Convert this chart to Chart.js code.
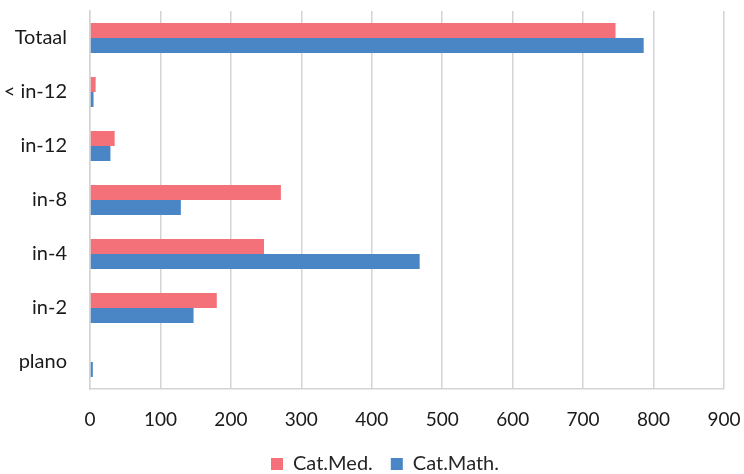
<!DOCTYPE html>
<html>
<head>
<meta charset="utf-8">
<script src="https://cdn.jsdelivr.net/npm/chart.js@4"></script>
<style>
  html, body { margin: 0; padding: 0; background: #fff; }
  #wrap { width: 744px; height: 474px; }
</style>
</head>
<body>
<div id="wrap"><canvas id="chart"></canvas></div>
<script>
const categories = ['Totaal', '< in-12', 'in-12', 'in-8', 'in-4', 'in-2', 'plano'];
const catMed = [746, 8, 35, 271, 247, 180, 0];
const catMath = [786, 5, 29, 129, 468, 147, 4];
const xTicks = [0, 100, 200, 300, 400, 500, 600, 700, 800, 900];

const gridColor = '#d4d4d4';
const font = 'Lato';

// keep the plot area where the reference has it, no label overflow padding
function noPad(scale) {
  scale.paddingTop = 0;
  scale.paddingBottom = 0;
  scale.paddingLeft = 0;
  scale.paddingRight = 0;
}

// the reference legend sits a bit right of the canvas centre
const legendShift = {
  id: 'legendShift',
  afterLayout(chart) {
    chart.legend.left += 23;
    chart.legend.right += 23;
  }
};

const ctx = document.getElementById('chart').getContext('2d');
const chart = new Chart(ctx, {
  type: 'bar',
  data: {
    labels: categories,
    datasets: [
      {
        label: 'Cat.Med.',
        data: catMed,
        backgroundColor: '#f4717a',
        barPercentage: 1,
        categoryPercentage: 0.555
      },
      {
        label: 'Cat.Math.',
        data: catMath,
        backgroundColor: '#4a86c6',
        barPercentage: 1,
        categoryPercentage: 0.555
      }
    ]
  },
  plugins: [legendShift],
  options: {
    indexAxis: 'y',
    responsive: true,
    maintainAspectRatio: false,
    animation: false,
    layout: { padding: { left: 0, right: 20, top: 11, bottom: -10 } },
    scales: {
      x: {
        min: 0,
        max: 900,
        afterBuildTicks: axis => { axis.ticks = xTicks.map(v => ({ value: v })); },
        grid: { color: gridColor, lineWidth: 1.5, drawTicks: false },
        border: { display: true, color: gridColor, width: 1.5 },
        ticks: { padding: 19, color: '#1a1a1a', font: { family: font, size: 19 } },
        afterFit: scale => { noPad(scale); scale.height = 47; }
      },
      y: {
        grid: { display: false },
        border: { display: true, color: gridColor, width: 1.5 },
        ticks: { padding: 15, color: '#1a1a1a', font: { family: font, size: 20 } },
        afterFit: scale => { noPad(scale); scale.width = 90; }
      }
    },
    plugins: {
      legend: {
        position: 'bottom',
        labels: {
          boxWidth: 12,
          boxHeight: 12,
          padding: 18,
          color: '#262626',
          font: { family: font, size: 20 }
        }
      },
      tooltip: { enabled: false }
    }
  }
});
</script>
</body>
</html>
